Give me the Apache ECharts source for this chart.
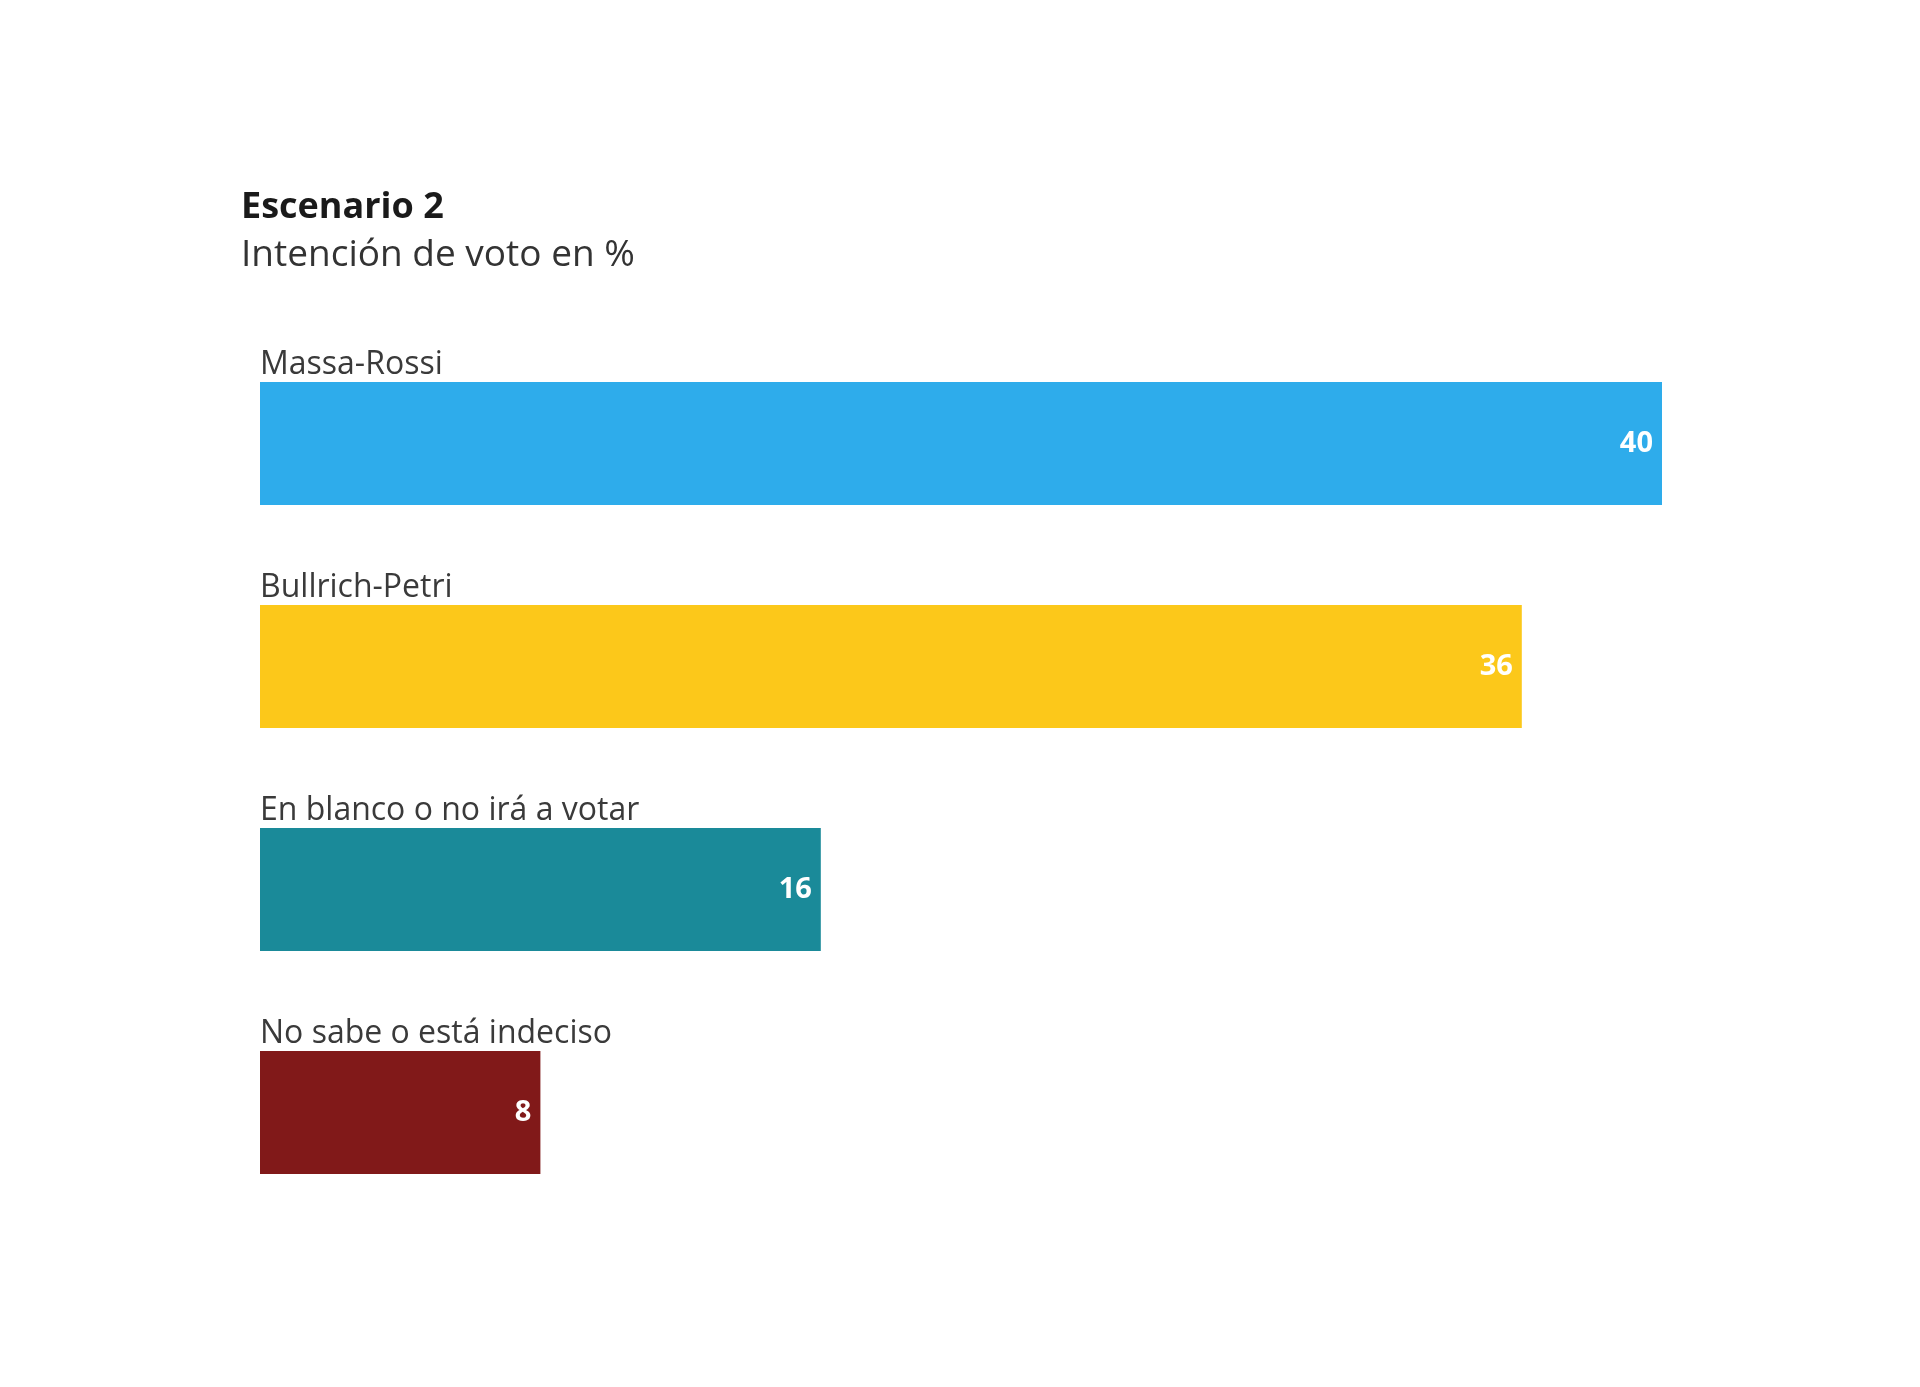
<!DOCTYPE html>
<html>
<head>
<meta charset="utf-8">
<script src="https://cdn.jsdelivr.net/npm/echarts@6/dist/echarts.min.js"></script>
<style>
html,body{margin:0;padding:0;background:#fff;}
#chart{width:1920px;height:1387px;}
</style>
</head>
<body>
<div id="chart"></div>
<script>
const categories = ['Massa-Rossi', 'Bullrich-Petri', 'En blanco o no irá a votar', 'No sabe o está indeciso'];
const values = [40, 36, 16, 8];
const colors = ['#2EACEB', '#FCC81A', '#1A8A99', '#811919'];
const titleText = 'Escenario 2';
const subtitleText = 'Intención de voto en %';

const FONT = 'Open Sans';
const chart = echarts.init(document.getElementById('chart'), null, {renderer: 'canvas'});
chart.setOption({
  backgroundColor: '#ffffff',
  animation: false,
  title: [
    {text: titleText, left: 236, top: 185, textStyle: {fontFamily: FONT, fontSize: 36, fontWeight: 'bold', color: '#1a1a1a'}},
    {text: subtitleText, left: 236, top: 232, textStyle: {fontFamily: FONT, fontSize: 37, fontWeight: 'normal', color: '#333333'}}
  ],
  grid: {left: 260, right: 258, top: 332, bottom: 163, containLabel: false},
  xAxis: {type: 'value', min: 0, max: 40, show: false},
  yAxis: {
    type: 'category', data: categories, inverse: true,
    axisLine: {show: false}, axisTick: {show: false}, splitLine: {show: false},
    axisLabel: {
      inside: true, margin: 0, align: 'left', verticalAlign: 'bottom',
      fontFamily: FONT, fontSize: 32, lineHeight: 32, color: '#3a3a3a',
      padding: [0, 0, 63, 0]
    }
  },
  series: [{
    type: 'bar', barWidth: 123,
    data: values.map((v, i) => ({value: v, itemStyle: {color: colors[i]}})),
    label: {show: true, position: 'insideRight', distance: 9, color: '#ffffff', fontFamily: FONT, fontWeight: 'bold', fontSize: 29}
  }]
});
</script>
</body>
</html>
